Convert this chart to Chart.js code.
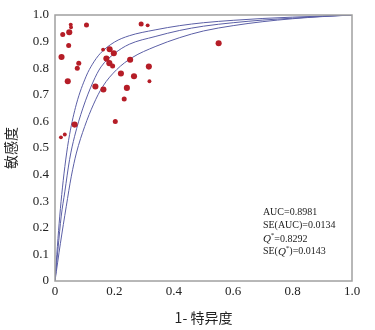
<!DOCTYPE html>
<html>
<head>
<meta charset="utf-8">
<script src="https://cdn.jsdelivr.net/npm/chart.js@4/dist/chart.umd.min.js"></script>
<style>
  html, body { margin: 0; padding: 0; background: #fff; }
  #wrap { width: 375px; height: 330px; }
</style>
</head>
<body>
<div id="wrap"><canvas id="sroc"></canvas></div>
<script>
// studies: 1-specificity, sensitivity, weight (1 small .. 3 large)
const studyFpr = [0.020, 0.033, 0.022, 0.026, 0.046, 0.048, 0.053, 0.054, 0.043, 0.066,
                  0.075, 0.080, 0.106, 0.136, 0.162, 0.163, 0.173, 0.184, 0.198, 0.183,
                  0.194, 0.203, 0.222, 0.253, 0.242, 0.233, 0.266, 0.290, 0.312, 0.316,
                  0.318, 0.551];
const studySens = [0.540, 0.551, 0.842, 0.927, 0.885, 0.935, 0.964, 0.954, 0.751, 0.588,
                   0.800, 0.819, 0.962, 0.731, 0.870, 0.720, 0.836, 0.871, 0.856, 0.819,
                   0.808, 0.600, 0.780, 0.832, 0.726, 0.684, 0.770, 0.966, 0.961, 0.806,
                   0.751, 0.894];
const studyWeight = [1, 1, 3, 2, 2, 3, 1, 1, 3, 3,
                     2, 2, 2, 3, 1, 3, 3, 3, 3, 3,
                     2, 2, 3, 3, 3, 2, 3, 2, 1, 3,
                     1, 3];

// SROC curves
const upperX = [0, 0.008, 0.016, 0.025, 0.036, 0.049, 0.072, 0.105, 0.126, 0.152, 0.2, 0.25, 0.337, 0.42, 0.5, 0.6, 0.7, 0.8, 0.9, 1];
const upperY = [0, 0.13, 0.244, 0.35, 0.455, 0.55, 0.665, 0.77, 0.815, 0.855, 0.898, 0.922, 0.944, 0.96, 0.971, 0.98, 0.987, 0.992, 0.996, 1];
const midX = [0, 0.01, 0.021, 0.033, 0.049, 0.066, 0.094, 0.128, 0.155, 0.2, 0.25, 0.337, 0.42, 0.5, 0.6, 0.7, 0.8, 0.9, 1];
const midY = [0, 0.12, 0.244, 0.335, 0.456, 0.544, 0.65, 0.748, 0.805, 0.855, 0.89, 0.919, 0.942, 0.958, 0.971, 0.981, 0.988, 0.995, 1];
const lowerX = [0, 0.018, 0.038, 0.055, 0.072, 0.1, 0.13, 0.16, 0.208, 0.26, 0.337, 0.42, 0.5, 0.6, 0.7, 0.8, 0.9, 1];
const lowerY = [0, 0.14, 0.281, 0.394, 0.481, 0.581, 0.665, 0.73, 0.795, 0.84, 0.881, 0.915, 0.94, 0.96, 0.975, 0.986, 0.994, 1];

const statLabels = ['AUC=0.8981', 'SE(AUC)=0.0134', 'Q*=0.8292', 'SE(Q*)=0.0143'];

const toXY = (xs, ys) => xs.map((x, i) => ({ x: x, y: ys[i] }));
const serif = "'Liberation Serif', 'DejaVu Serif', serif";
const curveColor = '#5b5fa6';

function curveSet(xs, ys) {
    return {
        type: 'line',
        data: toXY(xs, ys),
        borderColor: curveColor,
        borderWidth: 1,
        pointRadius: 0,
        fill: false,
        cubicInterpolationMode: 'monotone'
    };
}

// frame + stats text
const framePlugin = {
    id: 'frame',
    afterDraw(chart) {
        const { ctx, chartArea: a, scales } = chart;
        ctx.save();
        ctx.strokeStyle = '#a0a0a0';
        ctx.lineWidth = 1.5;
        ctx.strokeRect(a.left, a.top, a.right - a.left, a.bottom - a.top);

        ctx.fillStyle = '#222';
        ctx.textBaseline = 'middle';
        const x0 = scales.x.getPixelForValue(0.70);
        const rows = [0.258, 0.208, 0.158, 0.11];
        statLabels.forEach((txt, i) => {
            const y = scales.y.getPixelForValue(rows[i]);
            let x = x0;
            const parts = txt.split('Q*');
            parts.forEach((p, j) => {
                ctx.font = '10px ' + serif;
                ctx.fillText(p, x, y);
                x += ctx.measureText(p).width;
                if (j < parts.length - 1) {
                    ctx.font = 'italic 11px ' + serif;
                    ctx.fillText('Q', x, y);
                    x += ctx.measureText('Q').width;
                    ctx.font = '7px ' + serif;
                    ctx.fillText('*', x, y - 4);
                    x += ctx.measureText('*').width;
                }
            });
        });
        ctx.restore();
    }
};

new Chart(document.getElementById('sroc'), {
    type: 'scatter',
    data: {
        datasets: [
            {
                data: toXY(studyFpr, studySens),
                backgroundColor: '#b51d27',
                borderWidth: 0,
                pointRadius: studyWeight.map(w => 1.4 + w * 0.55)
            },
            curveSet(upperX, upperY),
            curveSet(midX, midY),
            curveSet(lowerX, lowerY)
        ]
    },
    options: {
        responsive: true,
        maintainAspectRatio: false,
        animation: false,
        layout: { padding: { top: 15, right: 23, left: 0, bottom: 0 } },
        plugins: {
            legend: { display: false },
            tooltip: { enabled: false }
        },
        scales: {
            x: {
                type: 'linear',
                min: 0, max: 1,
                grid: { display: false, drawTicks: false },
                border: { display: false },
                ticks: {
                    stepSize: 0.2,
                    padding: 3,
                    color: '#222',
                    font: { family: serif, size: 13 },
                    callback: v => v === 0 ? '0' : v.toFixed(1)
                },
                title: {
                    display: true,
                    text: '1- 特异度',
                    color: '#222',
                    font: { family: "'Noto Sans CJK SC', sans-serif", size: 14 },
                    padding: { top: 4, bottom: 4 }
                },
                afterFit(scale) { scale.height = 49; }
            },
            y: {
                type: 'linear',
                min: 0, max: 1,
                grid: { display: false, drawTicks: true, tickLength: 3, tickColor: '#888' },
                border: { display: false },
                ticks: {
                    stepSize: 0.1,
                    padding: 3,
                    color: '#222',
                    font: { family: serif, size: 13 },
                    callback: v => v === 0 ? '0' : v.toFixed(1)
                },
                title: {
                    display: true,
                    text: '敏感度',
                    color: '#222',
                    font: { family: "'Noto Sans CJK SC', sans-serif", size: 14 },
                    padding: { top: 2, bottom: 0 }
                },
                afterFit(scale) { scale.width = 55; }
            }
        }
    },
    plugins: [framePlugin]
});
</script>
</body>
</html>
